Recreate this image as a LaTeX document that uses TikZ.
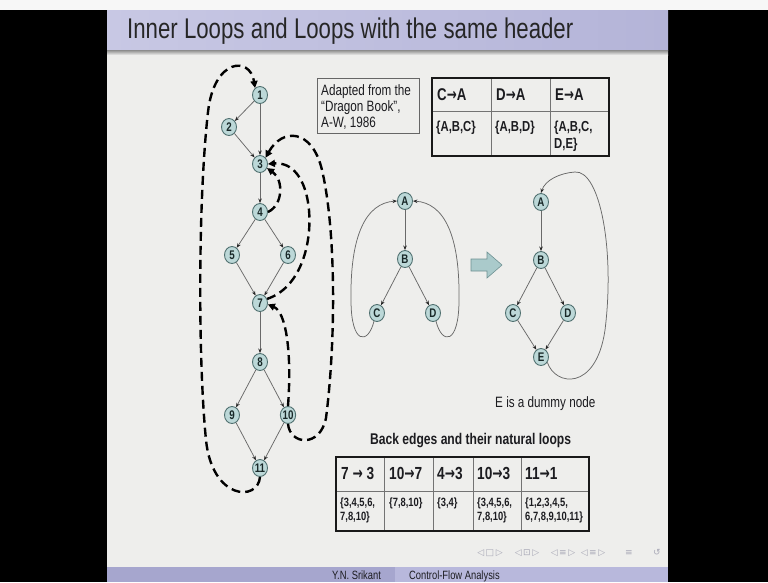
\documentclass[tikz,border=0pt]{standalone}
\usepackage{fontspec}
\setmainfont{Liberation Sans}[FakeStretch=0.78]
\newfontfamily\symfont{DejaVu Sans}
\newfontfamily\arrfont{DejaVu Sans}[FakeStretch=0.7]
\usetikzlibrary{shapes.geometric,arrows.meta}

\definecolor{slidebg}{RGB}{238,238,236}
\definecolor{barL}{RGB}{200,200,228}
\definecolor{barR}{RGB}{180,180,216}
\definecolor{footL}{RGB}{166,166,206}
\definecolor{footR}{RGB}{184,184,220}
\definecolor{vfill}{RGB}{188,216,216}
\definecolor{vline}{RGB}{80,112,112}
\definecolor{vtext}{RGB}{25,40,40}
\definecolor{edgecol}{RGB}{105,105,105}
\definecolor{navcol}{RGB}{168,168,182}
\definecolor{inkcol}{RGB}{28,28,32}
\definecolor{arrowfill}{RGB}{170,202,203}
\definecolor{arrowline}{RGB}{110,145,146}

\newcommand{\fsz}[1]{\fontsize{#1}{#1}\selectfont}
\newcommand{\ar}{{\arrfont\bfseries →}}

\begin{document}
\begin{tikzpicture}[x=1pt,y=-1pt,
  vtx/.style={ellipse, draw=vline, fill=vfill, line width=0.9pt,
    minimum width=15pt, minimum height=17pt, inner sep=0pt,
    font=\bfseries\fsz{12.5}, text=vtext},
  flow/.style={draw=edgecol, line width=0.75pt,
    -{Stealth[length=4.5pt,width=3.5pt,color=black!85]}},
  back/.style={draw=black, line width=2.4pt, dash pattern=on 9pt off 5pt,
    -{Triangle[length=7pt,width=7pt]}},
  txt/.style={inner sep=0pt, text=inkcol},
  navsym/.style={inner sep=0pt, anchor=base, font=\symfont\fsz{9}, text=navcol},
  tabout/.style={draw=black!90, line width=1.6pt},
  tabin/.style={draw=black!55, line width=0.8pt}]

\useasboundingbox (0,0) rectangle (768,582);

% frame and slide
\fill[black] (0,0) rectangle (768,582);
\fill[white!97!black] (0,0) rectangle (768,10);
\fill[slidebg] (107,10) rectangle (668,582);

% title bar
\shade[left color=barL, right color=barR] (107,10) rectangle (668,50);
\shade[top color=black!45, bottom color=slidebg] (107,50) rectangle (668,55);
\node[txt, anchor=base west, font=\fsz{28.5}, text=black!85] (title) at (127,38)
  {Inner Loops and Loops with the same header};

% footer bar
\fill[footL] (107,567) rectangle (395,582);
\fill[footR] (395,567) rectangle (668,582);
\node[txt, anchor=base west, font=\fsz{12}] (author) at (332,579) {Y.N. Srikant};
\node[txt, anchor=base west, font=\fsz{12}] (course) at (409,579) {Control-Flow Analysis};

% navigation symbols
\node[navsym] (nav1) at (490,555) {◁\,□\,▷};
\node[navsym] (nav2) at (527,555) {◁\,⊡\,▷};
\node[navsym] (nav3) at (563,555) {◁\,≡\,▷};
\node[navsym] (nav4) at (593,555) {◁\,≡\,▷};
\node[navsym] (nav5) at (629,555) {≡};
\node[navsym] (nav6) at (657,555) {↺};

% ---------- left flow graph ----------
\node[vtx] (n1)  at (260,95)  {1};
\node[vtx] (n2)  at (229,127) {2};
\node[vtx] (n3)  at (260,164) {3};
\node[vtx] (n4)  at (260,212) {4};
\node[vtx] (n5)  at (232,255) {5};
\node[vtx] (n6)  at (288,255) {6};
\node[vtx] (n7)  at (260,303) {7};
\node[vtx] (n8)  at (260,362) {8};
\node[vtx] (n9)  at (232,415) {9};
\node[vtx] (n10) at (288,415) {10};
\node[vtx] (n11) at (260,468) {11};

\draw[flow] (n1) -- (n2);
\draw[flow] (n1) -- (n3);
\draw[flow] (n2) -- (n3);
\draw[flow] (n3) -- (n4);
\draw[flow] (n4) -- (n5);
\draw[flow] (n4) -- (n6);
\draw[flow] (n5) -- (n7);
\draw[flow] (n6) -- (n7);
\draw[flow] (n7) -- (n8);
\draw[flow] (n8) -- (n9);
\draw[flow] (n8) -- (n10);
\draw[flow] (n9) -- (n11);
\draw[flow] (n10) -- (n11);

% back edges
\draw[back] (n11.south) .. controls (258,502) and (212,500) .. (206,440)
  .. controls (198,360) and (198,200) .. (208,112)
  .. controls (214,58) and (250,56) .. (n1.125);
\draw[back] (n10.south) .. controls (290,445) and (320,448) .. (326,418)
  .. controls (336,340) and (336,230) .. (322,170)
  .. controls (312,128) and (282,128) .. (n3.north east);
\draw[back] (n7.30) .. controls (300,288) and (312,245) .. (309,210)
  .. controls (306,178) and (292,162) .. (n3.east);
\draw[back] (n4.east) .. controls (283,205) and (284,180) .. (n3.-30);
\draw[back] (n10.north) .. controls (292,352) and (286,312) .. (n7.-10);

% ---------- loops with a common header ----------
\node[vtx] (a1) at (405,201) {A};
\node[vtx] (b1) at (405,259) {B};
\node[vtx] (c1) at (377,313) {C};
\node[vtx] (d1) at (433,313) {D};
\draw[flow] (a1) -- (b1);
\draw[flow] (b1) -- (c1);
\draw[flow] (b1) -- (d1);
\draw[flow] (c1.250) .. controls (368,345) and (351,345) .. (351,300)
  .. controls (350,235) and (366,203) .. (a1.west);
\draw[flow] (d1.290) .. controls (442,345) and (459,345) .. (459,300)
  .. controls (460,235) and (444,203) .. (a1.east);

% transformation arrow
\filldraw[fill=arrowfill, draw=arrowline, line width=0.6pt]
  (471,259) -- (487,259) -- (487,252) -- (502,265) -- (487,278) -- (487,271) -- (471,271) -- cycle;

% ---------- single loop through a dummy node ----------
\node[vtx] (a2) at (541,202) {A};
\node[vtx] (b2) at (541,260) {B};
\node[vtx] (c2) at (513,313) {C};
\node[vtx] (d2) at (568,313) {D};
\node[vtx] (e2) at (541,357) {E};
\draw[flow] (a2) -- (b2);
\draw[flow] (b2) -- (c2);
\draw[flow] (b2) -- (d2);
\draw[flow] (c2) -- (e2);
\draw[flow] (d2) -- (e2);
\draw[flow] (e2.-40) .. controls (555,386) and (596,392) .. (605,330)
  .. controls (615,250) and (600,170) .. (575,172)
  .. controls (560,173) and (545,180) .. (a2.north);

\node[txt, anchor=base west, font=\fsz{15}] (dummy) at (495,407.5) {E is a dummy node};

% ---------- source note ----------
\draw[draw=black!60, line width=0.8pt] (317,78) rectangle (419,133);
\node[txt, anchor=base west, font=\fsz{15}] (src1) at (321,95)  {Adapted from the};
\node[txt, anchor=base west, font=\fsz{15}] (src2) at (321,111) {``Dragon Book'',};
\node[txt, anchor=base west, font=\fsz{15}] (src3) at (321,127) {A-W, 1986};

% ---------- table of loops with header A ----------
\draw[tabin] (432,111) -- (609,111);
\draw[tabin] (491,78) -- (491,156);
\draw[tabin] (550,78) -- (550,156);
\draw[tabout] (432,78) rectangle (609,156);
\node[txt, anchor=base west, font=\bfseries\fsz{17}] (hca) at (437,100) {C\ar A};
\node[txt, anchor=base west, font=\bfseries\fsz{17}] (hda) at (496,100) {D\ar A};
\node[txt, anchor=base west, font=\bfseries\fsz{17}] (hea) at (555,100) {E\ar A};
\node[txt, anchor=base west, font=\bfseries\fsz{14.5}] (lca) at (436,131) {\{A,B,C\}};
\node[txt, anchor=base west, font=\bfseries\fsz{14.5}] (lda) at (495,131) {\{A,B,D\}};
\node[txt, anchor=base west, font=\bfseries\fsz{14.5}] (lea1) at (554,131) {\{A,B,C,};
\node[txt, anchor=base west, font=\bfseries\fsz{14.5}] (lea2) at (554,148) {D,E\}};

% ---------- back edges and natural loops ----------
\node[txt, anchor=base west, font=\bfseries\fsz{15.5}] (btitle) at (370,444.5)
  {Back edges and their natural loops};
\draw[tabin] (336,491) -- (589,491);
\draw[tabin] (384,457) -- (384,531);
\draw[tabin] (433,457) -- (433,531);
\draw[tabin] (473,457) -- (473,531);
\draw[tabin] (521,457) -- (521,531);
\draw[tabout] (336,457) rectangle (589,531);
\node[txt, anchor=base west, font=\bfseries\fsz{17.5}] (h73)  at (341,479) {7 \ar\ 3};
\node[txt, anchor=base west, font=\bfseries\fsz{17.5}] (h107) at (389,479) {10\ar 7};
\node[txt, anchor=base west, font=\bfseries\fsz{17.5}] (h43)  at (437,479) {4\ar 3};
\node[txt, anchor=base west, font=\bfseries\fsz{17.5}] (h103) at (477,479) {10\ar 3};
\node[txt, anchor=base west, font=\bfseries\fsz{17.5}] (h111) at (525,479) {11\ar 1};
\node[txt, anchor=base west, font=\bfseries\fsz{12}] (l73a)  at (340,506) {\{3,4,5,6,};
\node[txt, anchor=base west, font=\bfseries\fsz{12}] (l73b)  at (340,520) {7,8,10\}};
\node[txt, anchor=base west, font=\bfseries\fsz{12}] (l107)  at (389,506) {\{7,8,10\}};
\node[txt, anchor=base west, font=\bfseries\fsz{12}] (l43)   at (437,506) {\{3,4\}};
\node[txt, anchor=base west, font=\bfseries\fsz{12}] (l103a) at (477,506) {\{3,4,5,6,};
\node[txt, anchor=base west, font=\bfseries\fsz{12}] (l103b) at (477,520) {7,8,10\}};
\node[txt, anchor=base west, font=\bfseries\fsz{12}] (l111a) at (525,506) {\{1,2,3,4,5,};
\node[txt, anchor=base west, font=\bfseries\fsz{12}] (l111b) at (525,520) {6,7,8,9,10,11\}};
\end{tikzpicture}
\end{document}
